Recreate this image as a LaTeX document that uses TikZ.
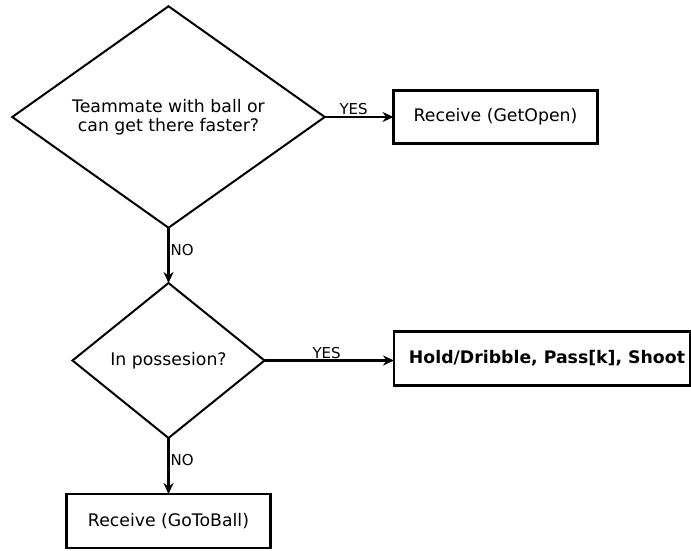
\documentclass[tikz,border=0pt]{standalone}
\usepackage{fontspec}
\setmainfont{DejaVu Sans}
\usetikzlibrary{shapes.geometric,arrows.meta}
\begin{document}
\begin{tikzpicture}[x=1pt,y=-1pt,
  decision/.style={draw,shape=diamond,line width=2pt,inner sep=0pt,outer sep=0pt},
  dtext/.style={align=center,inner sep=0pt,font=\fontsize{17.3}{19.5}\selectfont},
  actbox/.style={draw,rectangle,line width=2.6pt,inner sep=0pt,outer sep=0pt,align=center,font=\fontsize{17.3}{19.5}\selectfont},
  flow/.style={line width=2.2pt,-{Stealth[length=11pt,width=10pt]}},
  lbl/.style={font=\fontsize{15}{17}\selectfont,inner sep=1pt}]
\useasboundingbox (0,0) rectangle (691,550);
\node[decision,minimum width=312.5pt,minimum height=221.5pt] (d1) at (168.5,117) {};
\node[dtext] (t1) at (d1.center) {Teammate with ball or\\can get there faster?};
\node[actbox,minimum width=204pt,minimum height=53pt] (b1) at (495.5,117) {Receive (GetOpen)};
\node[decision,minimum width=192pt,minimum height=155pt] (d2) at (168.5,360.5) {};
\node[dtext] (t2) at (d2.center) {In possesion?};
\node[actbox,minimum width=296pt,minimum height=54pt] (b2) at (542,358.5) {};
\node[dtext,font=\fontsize{17.3}{19.5}\selectfont\bfseries] (t3) at ([xshift=5pt]b2.center) {Hold/Dribble, Pass[k], Shoot};
\node[actbox,minimum width=204pt,minimum height=54pt] (b3) at (168.5,521) {Receive (GoToBall)};
\draw[flow] (d1.east) -- (b1.west) node[lbl,pos=0.42,above] {YES};
\draw[flow] (d1.south) -- (d2.north) node[lbl,pos=0.4,right] {NO};
\draw[flow] (d2.east) -- (d2.east -| b2.west) node[lbl,pos=0.48,above] {YES};
\draw[flow] (d2.south) -- (b3.north) node[lbl,pos=0.4,right] {NO};
\end{tikzpicture}
\end{document}
